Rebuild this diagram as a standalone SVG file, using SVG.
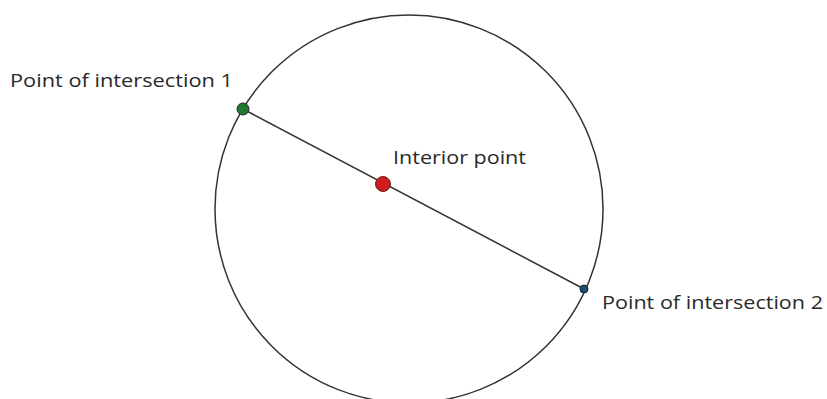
<svg xmlns="http://www.w3.org/2000/svg" width="827" height="399" viewBox="0 0 827 399">
<style>
.lbl{font-family:"Open Sans","Noto Sans","Liberation Sans",sans-serif;font-size:18px;fill:#2a2a2a}
.ln{stroke:#333;stroke-width:1.5;fill:none}
</style>
<rect width="827" height="399" fill="#fff"/>
<g id="circle"><circle class="ln" cx="409" cy="209" r="194"/></g>
<g id="connectors"><line class="ln" x1="243" y1="109" x2="584" y2="289"/></g>
<g id="p1"><circle cx="243" cy="109" r="6" fill="#1f7a2e" stroke="#224" stroke-width="1"/>
<text class="lbl" x="10" y="87" textLength="223" lengthAdjust="spacingAndGlyphs">Point of intersection 1</text></g>
<g id="interior"><circle cx="383" cy="184" r="7.5" fill="#d01c1c" stroke="#622" stroke-width="1"/>
<text class="lbl" x="393" y="164" textLength="133" lengthAdjust="spacingAndGlyphs">Interior point</text></g>
<g id="p2"><circle cx="584" cy="289" r="4" fill="#1d4e6e" stroke="#123" stroke-width="1"/>
<text class="lbl" x="602" y="309" textLength="221" lengthAdjust="spacingAndGlyphs">Point of intersection 2</text></g>
</svg>
